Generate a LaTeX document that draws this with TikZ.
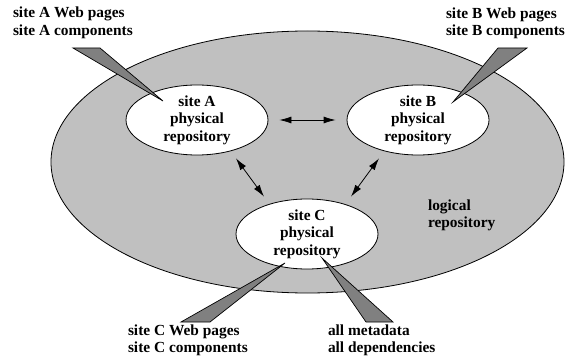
\documentclass[tikz,border=0pt]{standalone}
\usepackage{fontspec}
\setmainfont{Liberation Serif}
\usetikzlibrary{shapes.geometric,arrows.meta,calc}
\definecolor{bigfill}{RGB}{192,192,192}
\definecolor{callfill}{RGB}{128,128,128}
\begin{document}
\begin{tikzpicture}[x=1pt,y=-1pt,
  txt/.style={font=\fontsize{15.4}{17.5}\selectfont\bfseries, inner sep=0pt, outer sep=0pt},
  lbl/.style={txt, align=left, anchor=north west},
  repo/.style={ellipse, draw=black, line width=0.8pt, fill=white, minimum width=142pt, minimum height=70pt, inner sep=0pt},
  callout/.style={draw=black, line width=0.7pt, fill=callfill, line join=miter},
  link/.style={{Latex[length=12pt,width=7pt]}-{Latex[length=12pt,width=7pt]}, line width=0.8pt, black}]
\useasboundingbox (0,0) rectangle (565,358);
% logical repository
\node[ellipse, draw=black, line width=0.8pt, fill=bigfill, minimum width=513pt, minimum height=262pt, inner sep=0pt] (L) at (307.5,162) {};
\node[txt, align=left, anchor=north west] (Lt) at (428,199.6) {logical\\repository};
% physical repositories
\node[repo] (A) at (197,120) {};
\node[txt, align=center] (At) at (A.center) {site A\\physical\\repository};
\node[repo] (B) at (418,120) {};
\node[txt, align=center] (Bt) at (B.center) {site B\\physical\\repository};
\node[repo] (C) at (307,234) {};
\node[txt, align=center] (Ct) at (C.center) {site C\\physical\\repository};
% connectors
\draw[link] ([xshift=11pt]A.east) -- ([xshift=-11pt]B.west);
\draw[link] ([shift={(39,3)}]A.south) -- ([shift={(-43,-2)}]C.north);
\draw[link] ([shift={(-39,3)}]B.south) -- ([shift={(44,-2)}]C.north);
% content labels
\node[lbl] (la) at (13,7) {site A Web pages\\site A components};
\node[lbl] (lb) at (446,7.5) {site B Web pages\\site B components};
\node[lbl] (lc) at (128,324.5) {site C Web pages\\site C components};
\node[lbl] (ld) at (328,324.5) {all metadata\\all dependencies};
% callouts
\coordinate (ta) at (163,101);
\coordinate (tb) at (453,102);
\coordinate (tc1) at (285,263);
\coordinate (tc2) at (322,258);
\draw[callout] (73,48) -- (100,48) -- (ta) -- cycle;
\draw[callout] (498,48) -- (527,48) -- (tb) -- cycle;
\draw[callout] (181,322) -- (210,322) -- (tc1) -- cycle;
\draw[callout] (366,322) -- (393,322) -- (tc2) -- cycle;
\end{tikzpicture}
\end{document}
